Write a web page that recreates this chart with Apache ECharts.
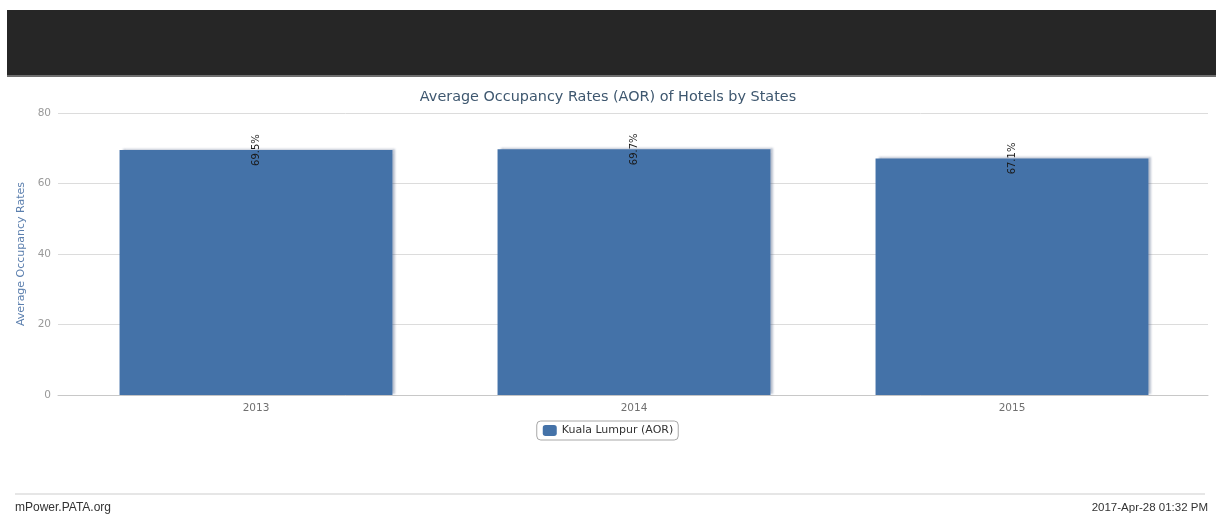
<!DOCTYPE html>
<html>
<head>
<meta charset="utf-8">
<script src="https://cdn.jsdelivr.net/npm/echarts@6/dist/echarts.min.js"></script>
<style>
  html, body { margin: 0; padding: 0; background: #ffffff; }
  #chart { width: 1216px; height: 515px; }
</style>
</head>
<body>
<div id="chart"></div>
<script>
// Hotel occupancy, Kuala Lumpur
const years = ['2013', '2014', '2015'];
const aorValues = [69.5, 69.7, 67.1];
const yTicks = [0, 20, 40, 60, 80];
const seriesName = 'Kuala Lumpur (AOR)';
const chartTitle = 'Average Occupancy Rates (AOR) of Hotels by States';
const yAxisTitle = 'Average Occupancy Rates';
const footerLeft = 'mPower.PATA.org';
const footerRight = '2017-Apr-28 01:32 PM';

const chart = echarts.init(document.getElementById('chart'), null, { renderer: 'canvas' });

const uiFont = '"DejaVu Sans", Verdana, sans-serif';
const footFont = '"Liberation Sans", Arial, sans-serif';
const yMin = yTicks[0];
const yMax = yTicks[yTicks.length - 1];
const yStep = yTicks[1] - yTicks[0];

chart.setOption({
  backgroundColor: '#ffffff',
  animation: false,
  title: {
    text: chartTitle,
    left: 'center',
    top: 85,
    textStyle: { color: '#3E576F', fontSize: 14.4, fontWeight: 'normal', fontFamily: uiFont }
  },
  legend: {
    data: [seriesName],
    left: 'center',
    top: 421,
    itemWidth: 14,
    itemHeight: 11,
    itemGap: 6,
    padding: [4, 5, 4, 6],
    borderColor: '#a8a8a8',
    borderWidth: 1,
    borderRadius: 4,
    textStyle: { color: '#333333', fontSize: 11, fontFamily: uiFont },
    icon: 'roundRect'
  },
  // grid 0 carries the full-width gridlines and value labels; grid 1 holds the bars
  grid: [
    { left: 58, right: 8, top: 113, bottom: 120 },
    { left: 67, right: 15, top: 113, bottom: 120 }
  ],
  xAxis: [
    {
      gridIndex: 0,
      type: 'category',
      data: [''],
      axisLine: { lineStyle: { color: '#c8c8c8' } },
      axisTick: { show: false },
      axisLabel: { show: false }
    },
    {
      gridIndex: 1,
      type: 'category',
      data: years,
      axisLine: { show: false },
      axisTick: { show: false },
      axisLabel: { color: '#707070', fontSize: 10.5, margin: 8, fontFamily: uiFont }
    }
  ],
  yAxis: [
    {
      gridIndex: 0,
      type: 'value',
      min: yMin,
      max: yMax,
      interval: yStep,
      name: yAxisTitle,
      nameLocation: 'middle',
      nameGap: 20,
      nameTextStyle: { color: '#5b7fae', fontSize: 11, fontFamily: uiFont },
      axisLine: { show: false },
      axisTick: { show: false },
      axisLabel: { color: '#999999', fontSize: 10.5, margin: 7, fontFamily: uiFont },
      splitLine: { lineStyle: { color: '#dcdcdc', width: 1 } }
    },
    {
      gridIndex: 1,
      type: 'value',
      min: yMin,
      max: yMax,
      interval: yStep,
      show: false,
      splitLine: { show: false }
    }
  ],
  series: [{
    name: seriesName,
    type: 'bar',
    xAxisIndex: 1,
    yAxisIndex: 1,
    data: aorValues,
    barWidth: '72.2%',
    itemStyle: {
      color: '#4472a8',
      shadowColor: 'rgba(60, 80, 120, 0.35)',
      shadowBlur: 2,
      shadowOffsetX: 3,
      shadowOffsetY: -1
    },
    label: {
      show: true,
      position: 'top',
      distance: 0,
      rotate: 90,
      align: 'center',
      verticalAlign: 'middle',
      color: '#1a1a1a',
      fontSize: 10,
      fontFamily: uiFont,
      formatter: p => p.value + '%'
    }
  }],
  graphic: [
    { type: 'rect', shape: { x: 7, y: 10, width: 1209, height: 66 }, style: { fill: '#262626' }, silent: true },
    { type: 'rect', shape: { x: 7, y: 75, width: 1209, height: 2 }, style: { fill: '#6e6e6e' }, silent: true },
    { type: 'rect', shape: { x: 15, y: 493, width: 1190, height: 2 }, style: { fill: '#e6e6e6' }, silent: true },
    { type: 'text', left: 15, top: 502, style: { text: footerLeft, fill: '#333333', fontSize: 12, fontFamily: footFont } },
    { type: 'text', right: 8, top: 502, style: { text: footerRight, fill: '#333333', fontSize: 11.5, fontFamily: footFont } }
  ]
});
</script>
</body>
</html>
